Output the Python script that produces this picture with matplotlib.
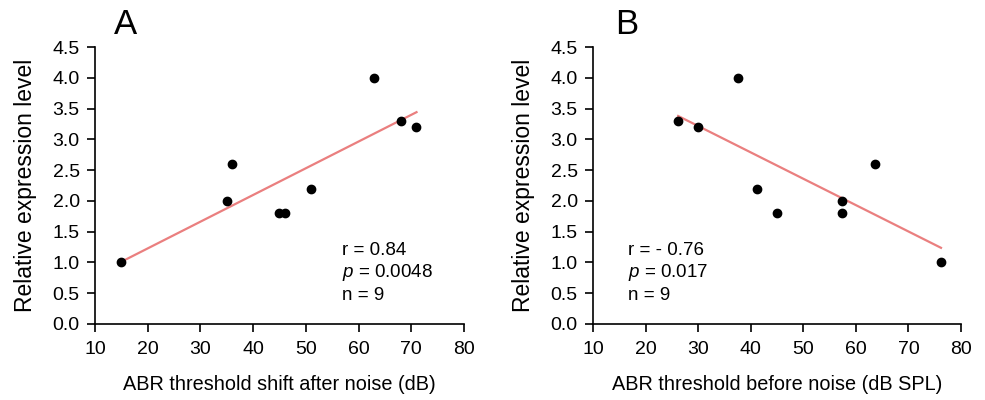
import numpy as np
import matplotlib
matplotlib.use('Agg')
from matplotlib import pyplot as plt

plt.rcParams['font.family'] = ['Liberation Sans', 'DejaVu Sans']
plt.rcParams['mathtext.fontset'] = 'custom'
plt.rcParams['mathtext.it'] = 'Liberation Sans:italic'
plt.rcParams['mathtext.rm'] = 'Liberation Sans'

# panel A: threshold shift after noise
shift_db = [15, 35, 36, 45, 46, 51, 63, 68, 71]
expr_a = [1.0, 2.0, 2.6, 1.8, 1.8, 2.2, 4.0, 3.3, 3.2]

# panel B: threshold before noise
before_db = [26.2, 30, 37.5, 41.2, 45, 57.4, 57.4, 63.7, 76.2]
expr_b = [3.3, 3.2, 4.0, 2.2, 1.8, 2.0, 1.8, 2.6, 1.0]

stats_a = ['r = 0.84', r'$p$ = 0.0048', 'n = 9']
stats_b = ['r = - 0.76', r'$p$ = 0.017', 'n = 9']

xticks = np.arange(10, 81, 10)
yticks = np.arange(0, 4.51, 0.5)

fig = plt.figure(figsize=(9.85, 4), dpi=100)
ax_a = fig.add_axes([0.0964, 0.19, 0.3746, 0.6925])
ax_b = fig.add_axes([0.602, 0.19, 0.3736, 0.6925])

panels = [
    (ax_a, shift_db, expr_a, stats_a, 0.669, 'ABR threshold shift after noise (dB)', 'A', 0.127),
    (ax_b, before_db, expr_b, stats_b, 0.095, 'ABR threshold before noise (dB SPL)', 'B', 0.6365),
]

for ax, x, y, stats, tx, xlabel, letter, lx in panels:
    x = np.array(x)
    y = np.array(y)
    slope, icpt = np.polyfit(x, y, 1)
    xs = np.array([x.min(), x.max()])
    ax.plot(xs, slope * xs + icpt, color='#ea7f7f', lw=1.6, zorder=2)
    ax.plot(x, y, 'o', color='black', ms=6, zorder=3)

    ax.set_xlim(10, 80)
    ax.set_ylim(0, 4.5)
    ax.set_xticks(xticks)
    ax.set_yticks(yticks)
    ax.set_yticklabels([f'{v:.1f}' for v in yticks])
    ax.tick_params(direction='out', length=6, width=1.2, labelsize=14)
    ax.tick_params(axis='x', pad=6)
    ax.tick_params(axis='y', pad=5)
    for s in ['top', 'right']:
        ax.spines[s].set_visible(False)
    for s in ['left', 'bottom']:
        ax.spines[s].set_linewidth(1.2)
    ax.set_ylabel('Relative expression level', fontsize=16.5)
    ax.yaxis.set_label_coords(-0.158, 0.5)
    ax.set_xlabel(xlabel, fontsize=14.3, va='top')
    ax.xaxis.set_label_coords(0.5, -0.185)

    for i, line in enumerate(stats):
        ax.text(tx, 0.267 - i * 0.082, line, transform=ax.transAxes,
                ha='left', va='center', fontsize=13.5)

    fig.text(lx, 0.94, letter, fontsize=25, ha='center', va='center')

fig.savefig('out.png', dpi=100)
